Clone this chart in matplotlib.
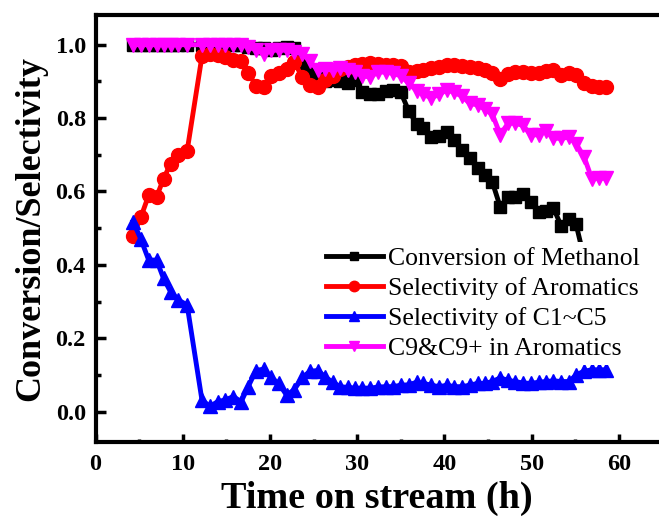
import matplotlib
matplotlib.use('Agg')
import matplotlib.pyplot as plt
from matplotlib.ticker import MultipleLocator

plt.rcParams['font.family'] = ['Liberation Serif', 'DejaVu Serif']

# time on stream (h)
t = [4.3, 5.2, 6.1, 7.0, 7.8, 8.6, 9.5, 10.5,
     12.2, 13.1, 14.0, 14.9, 15.8, 16.7, 17.5, 18.4, 19.3, 20.1,
     21.0, 21.9, 22.8, 23.7, 24.6, 25.5, 26.3, 27.2, 28.0, 28.9,
     29.8, 30.6, 31.5, 32.4, 33.3, 34.1, 35.0, 35.9, 36.8, 37.6,
     38.5, 39.4, 40.3, 41.1, 42.0, 42.9, 43.8, 44.6, 45.5, 46.4,
     47.3, 48.1, 49.0, 49.9, 50.8, 51.6, 52.5, 53.4, 54.3, 55.1,
     56.0, 56.9, 57.7, 58.5]

conv_methanol = [1.0, 1.0, 1.0, 1.0, 1.0, 1.0, 1.0, 1.0,
                 1.0, 1.0, 1.0, 1.0, 1.0, 1.0, 0.995, 0.99, 0.99, 0.985,
                 0.99, 0.995, 0.99, 0.95, 0.925, 0.91, 0.90, 0.905, 0.90, 0.895,
                 0.903, 0.87, 0.865, 0.865, 0.875, 0.877, 0.87, 0.82, 0.785, 0.772,
                 0.748, 0.752, 0.762, 0.74, 0.712, 0.69, 0.665, 0.645, 0.625, 0.558,
                 0.585, 0.586, 0.592, 0.57, 0.545, 0.548, 0.555, 0.505, 0.525, 0.51,
                 0.42]

sel_aromatics = [0.48, 0.53, 0.59, 0.585, 0.635, 0.675, 0.70, 0.71,
                 0.968, 0.975, 0.972, 0.967, 0.958, 0.955, 0.924, 0.888, 0.884, 0.915,
                 0.922, 0.935, 0.952, 0.912, 0.89, 0.885, 0.905, 0.915, 0.935, 0.94,
                 0.945, 0.947, 0.95, 0.948, 0.945, 0.945, 0.942, 0.927, 0.928, 0.931,
                 0.937, 0.94, 0.945, 0.944, 0.941, 0.938, 0.936, 0.93, 0.924, 0.906,
                 0.92, 0.925, 0.926, 0.924, 0.922, 0.928, 0.93, 0.918, 0.922, 0.918,
                 0.895, 0.888, 0.885, 0.884]

sel_c1_c5 = [0.518, 0.47, 0.413, 0.413, 0.363, 0.327, 0.304, 0.291,
             0.032, 0.014, 0.027, 0.032, 0.041, 0.027, 0.068, 0.112, 0.116, 0.093,
             0.077, 0.045, 0.06, 0.093, 0.11, 0.112, 0.095, 0.08, 0.068, 0.066,
             0.064, 0.064, 0.064, 0.067, 0.068, 0.068, 0.072, 0.073, 0.08, 0.077,
             0.072, 0.068, 0.072, 0.068, 0.068, 0.072, 0.077, 0.077, 0.082, 0.092,
             0.085, 0.082, 0.078, 0.077, 0.08, 0.082, 0.084, 0.082, 0.082, 0.10,
             0.11, 0.114, 0.114, 0.114]

c9_in_aromatics = [1.0, 1.0, 1.0, 1.0, 1.0, 1.0, 1.0, 1.0,
                   1.0, 1.0, 1.0, 1.0, 1.0, 1.0, 0.995, 0.985, 0.975, 0.985,
                   0.985, 0.985, 0.98, 0.975, 0.955, 0.93, 0.935, 0.93, 0.936, 0.93,
                   0.926, 0.915, 0.912, 0.926, 0.925, 0.922, 0.915, 0.895, 0.875, 0.865,
                   0.855, 0.865, 0.877, 0.87, 0.86, 0.84, 0.836, 0.825, 0.81, 0.755,
                   0.786, 0.786, 0.78, 0.755, 0.754, 0.765, 0.745, 0.745, 0.748, 0.73,
                   0.695, 0.635, 0.636, 0.636]

labels = ['Conversion of Methanol', 'Selectivity of Aromatics',
          'Selectivity of C1~C5', 'C9&C9+ in Aromatics']

fig = plt.figure(figsize=(6.59, 5.32), dpi=100)
ax = fig.add_axes([95.5 / 659, 90.3 / 532, 1 - 95.5 / 659, (441.7 - 15) / 532])

lw = 3.5
ax.plot(t[:len(conv_methanol)], conv_methanol, color='k', marker='s', ms=8.5, lw=lw, label=labels[0])
ax.plot(t, sel_aromatics, color='#ff0000', marker='o', ms=10, lw=lw, label=labels[1])
ax.plot(t, sel_c1_c5, color='#0000ff', marker='^', ms=10, lw=lw, label=labels[2])
ax.plot(t, c9_in_aromatics, color='#ff00ff', marker='v', ms=10, lw=lw, label=labels[3])

ax.set_xlim(0, 64.6)
ax.set_ylim(-0.082, 1.081)
ax.xaxis.set_major_locator(MultipleLocator(10))
ax.xaxis.set_minor_locator(MultipleLocator(5))
ax.yaxis.set_major_locator(MultipleLocator(0.2))
ax.yaxis.set_minor_locator(MultipleLocator(0.1))
ax.yaxis.set_major_formatter(matplotlib.ticker.FormatStrFormatter('%.1f'))

for s in ['left', 'bottom', 'top']:
    ax.spines[s].set_linewidth(3)
ax.spines['right'].set_visible(False)

ax.tick_params(which='both', direction='in', width=2.5, top=False, right=False)
ax.tick_params(axis='x', which='major', length=5.5, pad=9)
ax.tick_params(axis='x', which='minor', length=2.5)
ax.tick_params(axis='y', which='major', length=7, pad=7)
ax.tick_params(axis='y', which='minor', length=3.5)
for lab in ax.get_xticklabels() + ax.get_yticklabels():
    lab.set_fontsize(17.5)
    lab.set_fontweight('bold')

ax.set_xlabel('Time on stream (h)', fontsize=27.5, fontweight='bold', labelpad=4)
ax.set_ylabel('Conversion/Selectivity', fontsize=26, fontweight='bold', labelpad=6)

leg = ax.legend(loc='upper left', bbox_to_anchor=(308 / 659, 1 - 229.4 / 532),
                bbox_transform=fig.transFigure, fontsize=18.5, frameon=True,
                facecolor='white', edgecolor='white', framealpha=1,
                borderpad=0.2, labelspacing=0.27, handlelength=2.2,
                handletextpad=0.2, markerscale=0.75)
leg.get_frame().set_linewidth(0)

fig.savefig('out.png', dpi=100)
